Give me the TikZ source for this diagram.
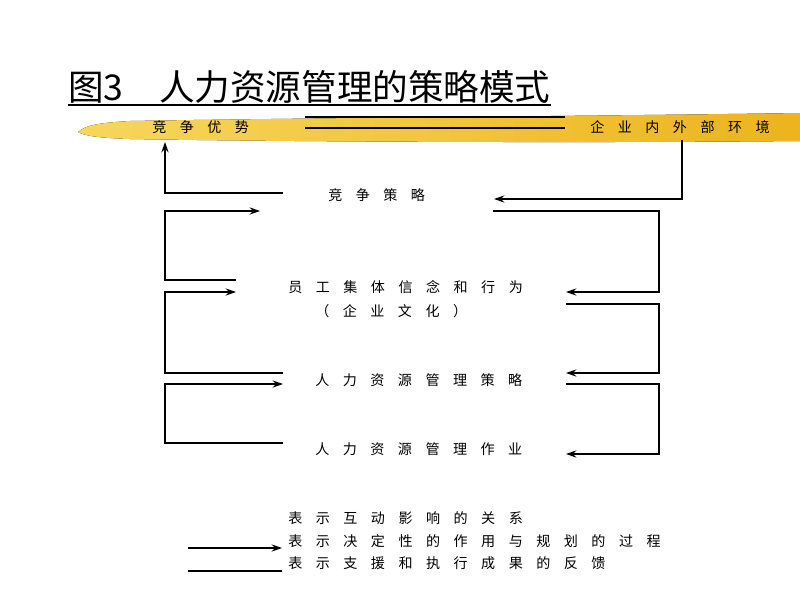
\documentclass[tikz,border=0pt]{standalone}
\usepackage{fontspec}
\usetikzlibrary{arrows.meta}
\setmainfont{Noto Sans CJK SC}
\newfontfamily\spaced[LetterSpace=96]{Noto Sans CJK SC}
\definecolor{brushA}{RGB}{247,214,92}
\definecolor{brushB}{RGB}{236,180,30}
\tikzset{
  lbl/.style={anchor=west, inner sep=0pt, font=\spaced\fontsize{10}{12}\selectfont},
  ttl/.style={anchor=base west, inner sep=0pt, font=\fontsize{25.3}{30}\selectfont},
  fb/.style={line width=1.1pt},
  arr/.style={line width=1.1pt, -{Stealth[length=2.6mm,width=1.8mm]}},
}
\begin{document}
\begin{tikzpicture}[x=0.025cm,y=-0.025cm]
  \fill[white] (0,0) rectangle (800,600);
  \useasboundingbox (0,0) rectangle (800,600);

  % brush stroke behind the top row
  \fill[left color=brushA, right color=brushB]
    (78,132) .. controls (85,126) and (95,123) .. (130,121)
    .. controls (300,118) and (600,116) .. (800,113) -- (800,141)
    .. controls (600,143) and (300,142) .. (130,139)
    .. controls (100,138) and (85,136) .. (78,132) -- cycle;

  \node[ttl] (title) at (68,100) {图3　人力资源管理的策略模式};
  \draw[line width=1.5pt] ([yshift=-1.5pt]title.south west) -- ([yshift=-1.5pt]title.south east);

  \node[lbl] (adv) at (152,127) {竞争优势};
  \node[lbl] (env) at (590,127) {企业内外部环境};
  \node[lbl] (cs) at (328,195) {竞争策略};
  \node[lbl] (cul) at (288,287) {员工集体信念和行为};
  \node[lbl] (cul2) at (315,311) {（企业文化）};
  \node[lbl] (hrs) at (315,380) {人力资源管理策略};
  \node[lbl] (hrp) at (315,449) {人力资源管理作业};
  \node[lbl] (k1) at (288,518) {表示互动影响的关系};
  \node[lbl] (k2) at (288,541) {表示决定性的作用与规划的过程};
  \node[lbl] (k3) at (288,563) {表示支援和执行成果的反馈};

  % loop ends
  \coordinate (lx) at (165,0);
  \coordinate (rx) at (659,0);
  \coordinate (a1) at (283,193); \coordinate (a2) at (165,142);
  \coordinate (b1) at (236,280); \coordinate (b2) at (260,211);
  \coordinate (c1) at (283,373); \coordinate (c2) at (236,292);
  \coordinate (d1) at (283,443); \coordinate (d2) at (283,384);
  \coordinate (e1) at (682,140); \coordinate (e2) at (494,199);
  \coordinate (f1) at (493,211); \coordinate (f2) at (566,292);
  \coordinate (g1) at (566,304); \coordinate (g2) at (566,373);
  \coordinate (h1) at (566,384); \coordinate (h2) at (566,454);
  \coordinate (m1) at (305,117); \coordinate (m2) at (565,117);
  \coordinate (n1) at (305,128); \coordinate (n2) at (565,128);
  \coordinate (p1) at (188,548); \coordinate (p2) at (282,548);
  \coordinate (q1) at (188,571); \coordinate (q2) at (282,571);

  \draw[line width=0.8pt] (m1) -- (m2);
  \draw[line width=0.8pt] (n1) -- (n2);

  \draw[arr] (a1) -| (a2);
  \draw[arr] (b1) -| (lx |- b2) -- (b2);
  \draw[arr] (c1) -| (lx |- c2) -- (c2);
  \draw[arr] (d1) -| (lx |- d2) -- (d2);

  \draw[arr] (e1) |- (e2);
  \draw[arr] (f1) -| (rx |- f2) -- (f2);
  \draw[arr] (g1) -| (rx |- g2) -- (g2);
  \draw[arr] (h1) -| (rx |- h2) -- (h2);

  \draw[arr] (p1) -- (p2);
  \draw[fb] (q1) -- (q2);
\end{tikzpicture}
\end{document}
